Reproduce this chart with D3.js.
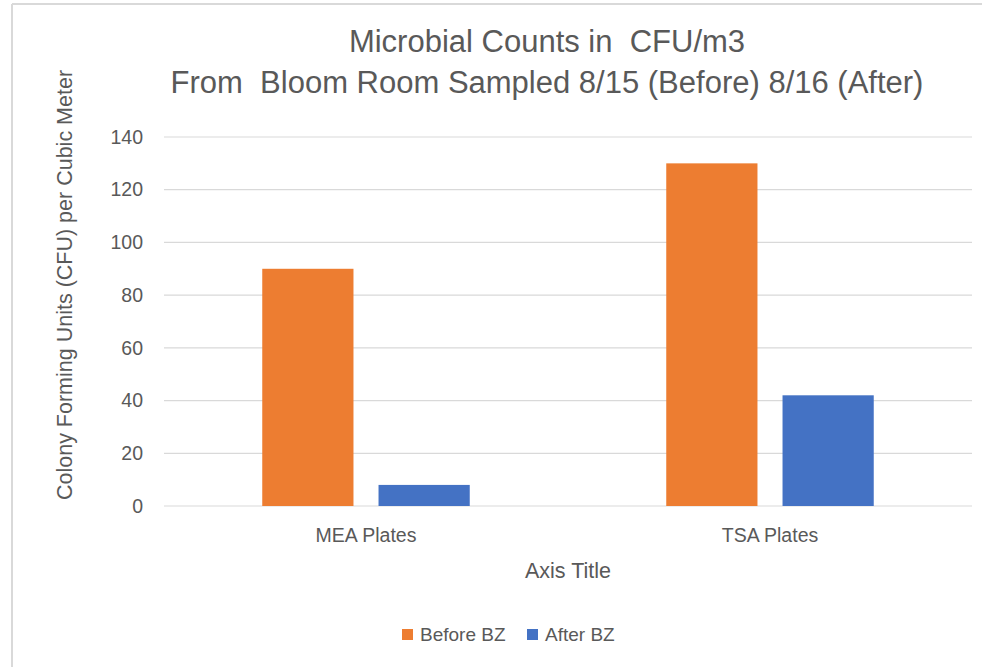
<!DOCTYPE html>
<html>
<head>
<meta charset="utf-8">
<script src="https://cdn.jsdelivr.net/npm/d3@7"></script>
<style>
  body { margin: 0; background: #fff; }
  svg { display: block; font-family: "Liberation Sans", Arial, sans-serif; }
</style>
</head>
<body>
<svg id="chart" width="982" height="667"></svg>
<script>
// chart data
const categories = ["MEA Plates", "TSA Plates"];
const seriesNames = ["Before BZ", "After BZ"];
const beforeValues = [90, 130];
const afterValues = [8, 42];
const yTicks = [0, 20, 40, 60, 80, 100, 120, 140];

const colors = ["#ED7D31", "#4472C4"];
const textColor = "#595959";
const font = '"Liberation Sans", Arial, sans-serif';

const svg = d3.select("#chart");

// outer frame (only left and top edges visible)
svg.append("line").attr("x1", 12).attr("x2", 12).attr("y1", 4).attr("y2", 667)
    .attr("stroke", "#d9d9d9").attr("stroke-width", 2);
svg.append("line").attr("x1", 12).attr("x2", 982).attr("y1", 4).attr("y2", 4)
    .attr("stroke", "#d9d9d9").attr("stroke-width", 2);

const margin = { left: 164, right: 10, top: 137, bottom: 161 };
const width = 982 - margin.left - margin.right;
const height = 667 - margin.top - margin.bottom;

const g = svg.append("g").attr("transform", `translate(${margin.left},${margin.top})`);

const x0 = d3.scaleBand().domain(categories).range([0, width]);
const x1 = d3.scaleBand().domain(seriesNames).range([0, x0.bandwidth()])
    .paddingInner(0.2155).paddingOuter(0.845);
const y = d3.scaleLinear().domain([0, 140]).range([height, 0]);

// gridlines
g.selectAll(".grid").data(yTicks).enter().append("line")
    .attr("x1", 0).attr("x2", width)
    .attr("y1", d => y(d)).attr("y2", d => y(d))
    .attr("stroke", "#d9d9d9").attr("stroke-width", 1.2);

// y axis labels
const yAxis = g.append("g").call(d3.axisLeft(y).tickValues(yTicks).tickSize(0).tickPadding(21));
yAxis.select(".domain").remove();
yAxis.selectAll("text").attr("fill", textColor).style("font-size", "19.5px")
    .style("font-family", font);

// bars
const rows = categories.map((c, i) => ({ cat: c, vals: [beforeValues[i], afterValues[i]] }));
const groups = g.selectAll(".grp").data(rows).enter().append("g")
    .attr("transform", d => `translate(${x0(d.cat)},0)`);
groups.selectAll("rect").data(d => d.vals.map((v, j) => ({ s: seriesNames[j], v, j })))
    .enter().append("rect")
    .attr("x", d => x1(d.s))
    .attr("width", x1.bandwidth())
    .attr("y", d => y(d.v))
    .attr("height", d => y(0) - y(d.v))
    .attr("fill", d => colors[d.j]);

// x axis labels
const xAxis = g.append("g").attr("transform", `translate(0,${height})`)
    .call(d3.axisBottom(x0).tickSize(0).tickPadding(22));
xAxis.select(".domain").remove();
xAxis.selectAll("text").attr("fill", textColor).style("font-size", "19.5px")
    .style("font-family", font);

// axis titles
svg.append("text").attr("x", 568).attr("y", 578).attr("text-anchor", "middle")
    .attr("fill", textColor).style("font-size", "21.5px").text("Axis Title");
svg.append("text").attr("transform", "translate(72,285) rotate(-90)").attr("text-anchor", "middle")
    .attr("fill", textColor).style("font-size", "21.5px").text("Colony Forming Units (CFU) per Cubic Meter");

// chart title
svg.append("text").attr("x", 547).attr("y", 52).attr("text-anchor", "middle")
    .attr("fill", textColor).style("font-size", "31px").style("white-space", "pre")
    .text("Microbial Counts in  CFU/m3");
svg.append("text").attr("x", 547).attr("y", 93).attr("text-anchor", "middle")
    .attr("fill", textColor).style("font-size", "31px").style("white-space", "pre")
    .text("From  Bloom Room Sampled 8/15 (Before) 8/16 (After)");

// legend
const legend = svg.append("g").attr("transform", "translate(402,641)");
const items = legend.selectAll("g").data(seriesNames).enter().append("g")
    .attr("transform", (d, i) => `translate(${i * 125},0)`);
items.append("rect").attr("x", 0).attr("y", -12).attr("width", 11).attr("height", 11)
    .attr("fill", (d, i) => colors[i]);
items.append("text").attr("x", 18).attr("y", 0).attr("fill", textColor)
    .style("font-size", "19px").text(d => d);
</script>
</body>
</html>
